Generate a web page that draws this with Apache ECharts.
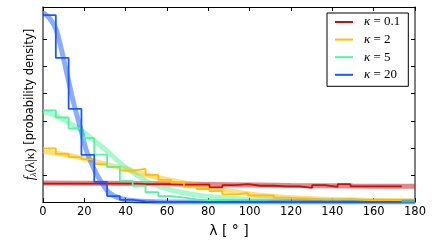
<!DOCTYPE html>
<html><head><meta charset="utf-8">
<script src="https://cdn.jsdelivr.net/npm/echarts@6/dist/echarts.min.js"></script>
<style>html,body{margin:0;padding:0;background:#fff}#c{width:432px;height:243px}</style>
</head><body><div id="c"></div>
<script>
// ---- data ----
const binStarts = [0,6.2,12.4,18.6,24.8,31,37.2,43.4,49.6,55.8,62,68.2,74.4,80.6,86.8,93,99.2,105.4,111.6,117.8,124,130.2,136.4,142.6,148.8,155,161.2,167.4];
const binEnd = 173.6;
const histK01 = [0.34,0.34,0.34,0.34,0.34,0.34,0.34,0.33,0.33,0.33,0.32,0.32,0.32,0.27,0.31,0.33,0.30,0.30,0.29,0.29,0.26,0.31,0.28,0.33,0.29,0.29,0.29,0.29];
const histK2  = [0.99,0.89,0.83,0.79,0.70,0.65,0.58,0.61,0.50,0.41,0.36,0.28,0.24,0.20,0.14,0.17,0.12,0.12,0.08,0.07,0.06,0.05,0.05,0.06,0.04,0.03,0.03,0.03];
const histK5  = [1.69,1.56,1.36,1.18,0.875,0.65,0.39,0.30,0.18,0.11,0.08,0.05,0.03,0.02,0.01,0.01,0.01,0,0,0,0,0,0,0,0,0,0,0];
const histK20 = [3.45,2.66,1.72,0.87,0.37,0.11,0.04,0.01,0,0,0,0,0,0,0,0,0,0,0,0,0,0,0,0,0,0,0,0];

const curveK01 = [[0,0.35],[30,0.345],[60,0.335],[90,0.32],[120,0.305],[150,0.295],[180,0.29]];
const curveK2  = [[0,0.93],[13,0.86],[26,0.74],[39,0.62],[52,0.48],[65,0.38],[77,0.29],[89,0.21],[100,0.15],[109,0.11],[125,0.07],[146,0.04],[165,0.03],[180,0.03]];
const curveK5  = [[0,1.67],[6,1.60],[12.2,1.47],[18.7,1.32],[25.2,1.12],[31.6,0.92],[37.3,0.72],[43.7,0.54],[50.2,0.38],[58.2,0.26],[67.9,0.17],[77.4,0.11],[87,0.08],[100,0.05],[120,0.03],[150,0.02],[180,0.01]];
const curveK20 = [[0,3.49],[3,3.40],[6.2,3.20],[9,2.80],[12.4,2.23],[15,1.80],[18.6,1.30],[21,0.95],[24.8,0.60],[28,0.38],[31,0.21],[34,0.12],[37.2,0.07],[40,0.04],[45,0.02],[50,0.01],[60,0],[180,0]];

const seriesNames = ['k01','k2','k5','k20'];
const legendLabels = {k01:'0.1', k2:'2', k5:'5', k20:'20'};
const colors = {k01:'#c41212', k2:'#ffbf00', k5:'#55f2a0', k20:'#1a5aff'};
const xTicks = [0,20,40,60,80,100,120,140,160,180];
const yTicks = [0.5,1.0,1.5,2.0,2.5,3.0];

const hists = {k01:histK01, k2:histK2, k5:histK5, k20:histK20};
const curves = {k01:curveK01, k2:curveK2, k5:curveK5, k20:curveK20};

function histData(vals){
  const d = binStarts.map((x,i)=>[x, vals[i]]);
  d.push([binEnd, vals[vals.length-1]]);
  return d;
}

const series = [];
seriesNames.forEach(n=>{
  series.push({name:n+'_curve', type:'line', data:curves[n], smooth:0.3, showSymbol:false, silent:true,
    lineStyle:{color:colors[n], width:5, opacity:0.5}, itemStyle:{color:colors[n]}, z:2});
});
seriesNames.forEach(n=>{
  series.push({name:n, type:'line', data:histData(hists[n]), step:'end', showSymbol:false,
    lineStyle:{color:colors[n], width:1.8}, itemStyle:{color:colors[n]}, z:3});
});

const chart = echarts.init(document.getElementById('c'), null, {renderer:'canvas'});
const tickStyle = {show:true, inside:true, length:4, lineStyle:{color:'#000', width:1}};
chart.setOption({
  animation:false,
  backgroundColor:'#fff',
  grid:{left:43, right:17, top:7, bottom:37, containLabel:false},
  xAxis:[{
    type:'value', min:0, max:180, interval:20, position:'bottom',
    axisLine:{show:true, onZero:false, lineStyle:{color:'#000', width:1}},
    axisTick:Object.assign({}, tickStyle, {customValues:xTicks}),
    axisLabel:{customValues:xTicks, color:'#000', fontFamily:'DejaVu Sans', fontSize:11.5, margin:4},
    splitLine:{show:false},
    name:'λ [ ° ]', nameLocation:'middle', nameGap:22,
    nameTextStyle:{color:'#000', fontFamily:'DejaVu Sans', fontSize:14}
  },{
    type:'value', min:0, max:180, interval:20, position:'top',
    axisLine:{show:true, onZero:false, lineStyle:{color:'#000', width:1}},
    axisTick:Object.assign({}, tickStyle, {customValues:xTicks}),
    axisLabel:{show:false}, splitLine:{show:false}
  }],
  yAxis:[{
    type:'value', min:0, max:3.6, interval:0.5, position:'left',
    axisLine:{show:true, onZero:false, lineStyle:{color:'#555', width:1.5}},
    axisTick:Object.assign({}, tickStyle, {customValues:yTicks}),
    axisLabel:{show:false}, splitLine:{show:false},
    name:'{f|f}{s|λ}{m|(λ|κ)}{t| [probability density]}', nameLocation:'middle', nameRotate:90, nameGap:5,
    nameTextStyle:{color:'#000', rich:{
      f:{fontFamily:'Liberation Serif', fontStyle:'italic', fontSize:14, color:'#000'},
      s:{fontFamily:'Liberation Serif', fontStyle:'italic', fontSize:9, color:'#000', verticalAlign:'bottom', padding:[6,0,0,0]},
      m:{fontFamily:'Liberation Serif', fontSize:13, color:'#000'},
      t:{fontFamily:'DejaVu Sans', fontSize:11.5, color:'#000'}
    }}
  },{
    type:'value', min:0, max:3.6, interval:0.5, position:'right',
    axisLine:{show:true, onZero:false, lineStyle:{color:'#555', width:1.5}},
    axisTick:Object.assign({}, tickStyle, {customValues:yTicks}),
    axisLabel:{show:false}, splitLine:{show:false}
  }],
  legend:{
    data:seriesNames, orient:'vertical', left:327, top:13,
    backgroundColor:'#fff', borderColor:'#000', borderWidth:1, borderRadius:0,
    padding:[2,8,4.5,8], itemGap:3.6, itemWidth:18, itemHeight:2, icon:'rect',
    formatter:n=>'{g|}{k|κ}{t| = '+legendLabels[n]+'}',
    textStyle:{lineHeight:14, rich:{
      g:{width:6},
      k:{fontFamily:'Liberation Serif', fontStyle:'italic', fontSize:13, color:'#000'},
      t:{fontFamily:'Liberation Serif', fontSize:13, color:'#000'}
    }}
  },
  series:series
});
</script></body></html>
